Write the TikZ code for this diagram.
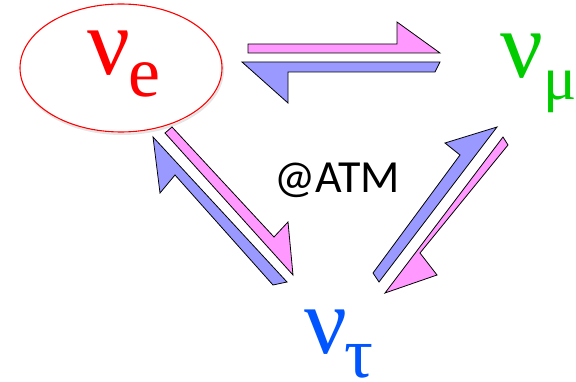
\documentclass[tikz,border=0pt]{standalone}
\usepackage{fontspec}
\newfontfamily\grfont{Liberation Serif}
\newfontfamily\calfont{Carlito}
\definecolor{pinkfill}{HTML}{FF99FF}
\definecolor{bluefill}{HTML}{9999FF}
\definecolor{nured}{HTML}{FF0000}
\definecolor{nugreen}{HTML}{00CC00}
\definecolor{nublue}{HTML}{0055FF}
\tikzset{
  halfarrow/.style={draw=black, line width=0.8pt, line join=miter},
  bignu/.style={anchor=base west, inner sep=0pt, font=\grfont\fontsize{95}{95}\selectfont},
  subnu/.style={anchor=base west, inner sep=0pt, font=\grfont\fontsize{72}{72}\selectfont},
}
\begin{document}
\begin{tikzpicture}[x=1pt,y=-1pt]
\useasboundingbox (0,0) rectangle (576,382);
% ellipse around nu_e
\draw[gray!20, line width=2pt] (122,70) ellipse [x radius=101, y radius=64];
\draw[nured, line width=1.1pt, fill=white] (121,68) ellipse [x radius=101, y radius=64];
\node (ellipse) at (121,68) {};
% labels
\node[bignu, text=nured] (nue) at (87,75) {ν};
\node[subnu, text=nured] (sube) at (128,97) {e};
\node[bignu, text=nugreen] (numu) at (500,78) {ν};
\node[subnu, text=nugreen, font=\grfont\fontsize{62}{62}\selectfont] (submu) at (543,100) {μ};
\node[bignu, text=nublue] (nutau) at (304,353) {ν};
\node[subnu, text=nublue] (subtau) at (344,377) {τ};
\node[anchor=base west, inner sep=0pt, font=\calfont\fontsize{46}{46}\selectfont] (atm) at (274,193) {@ATM};
% top horizontal pair
\draw[halfarrow, fill=pinkfill] (248,44) -- (397,44) -- (397,22) -- (440,53) -- (248,53) -- cycle;
\draw[halfarrow, fill=bluefill] (440,62) -- (242,62) -- (288,103) -- (288,72) -- (435,72) -- cycle;
% left diagonal pair
\draw[halfarrow, fill=pinkfill] (165,133) -- (172,127) -- (274,237) -- (288,222) -- (293,275) -- cycle;
\draw[halfarrow, fill=bluefill] (153,137) -- (160,193) -- (175,175) -- (273,285) -- (287,282) -- cycle;
% right diagonal pair
\draw[halfarrow, fill=bluefill] (497,127) -- (445,143) -- (460,155) -- (373,273) -- (379,282) -- cycle;
\draw[halfarrow, fill=pinkfill] (503,137) -- (508,145) -- (420,253) -- (437,275) -- (385,293) -- cycle;
\end{tikzpicture}
\end{document}
